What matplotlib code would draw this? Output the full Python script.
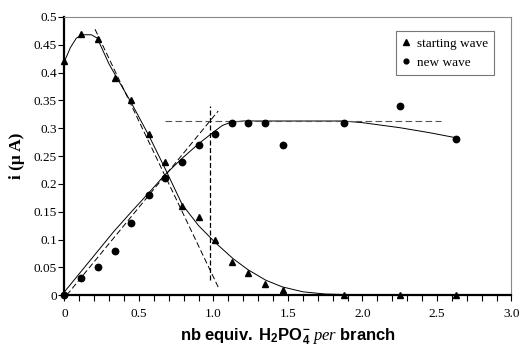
import matplotlib
matplotlib.use('Agg')
import matplotlib.pyplot as plt

plt.rcParams['font.family'] = ['Liberation Serif', 'DejaVu Serif']
plt.rcParams['mathtext.fontset'] = 'custom'
plt.rcParams['mathtext.rm'] = 'Liberation Sans:bold'
plt.rcParams['mathtext.bf'] = 'Liberation Sans:bold'
plt.rcParams['mathtext.it'] = 'Liberation Serif:italic'

# equivalents of H2PO4- added per branch
x_eq = [0.0, 0.11, 0.227, 0.339, 0.446, 0.567, 0.674, 0.786, 0.903, 1.01,
        1.126, 1.234, 1.346, 1.464, 1.876, 2.25, 2.625]

# starting wave current (uA)
i_start = [0.42, 0.47, 0.46, 0.39, 0.35, 0.29, 0.24, 0.16, 0.14, 0.10,
           0.06, 0.04, 0.02, 0.01, 0.0, 0.0, 0.0]

# new wave current (uA)
i_new = [0.0, 0.03, 0.05, 0.08, 0.13, 0.18, 0.21, 0.24, 0.27, 0.29,
         0.31, 0.31, 0.31, 0.27, 0.31, 0.34, 0.28]

# smoothed trend curves
start_curve_x = [0.0, 0.04, 0.08, 0.12, 0.18, 0.22, 0.3, 0.45, 0.57, 0.68,
                 0.79, 0.9, 1.01, 1.13, 1.23, 1.35, 1.46, 1.6, 1.75, 2.05]
start_curve_y = [0.42, 0.445, 0.462, 0.468, 0.468, 0.462, 0.415, 0.345, 0.285, 0.225,
                 0.163, 0.125, 0.095, 0.066, 0.046, 0.027, 0.015, 0.006, 0.002, 0.0]
new_curve_x = [0.0, 0.11, 0.22, 0.33, 0.45, 0.57, 0.67, 0.79, 0.9, 1.0,
               1.06, 1.12, 1.2, 1.87, 2.0, 2.25, 2.45, 2.625]
new_curve_y = [0.006, 0.042, 0.078, 0.114, 0.15, 0.185, 0.215, 0.246, 0.272, 0.293,
               0.305, 0.311, 0.313, 0.313, 0.31, 0.301, 0.292, 0.283]

# tangent construction lines
tan_start_x = [0.205, 1.04]
tan_start_y = [0.478, 0.01]
tan_new_x = [0.015, 1.032]
tan_new_y = [0.0, 0.331]
plateau_x = [0.674, 2.53]
plateau_y = [0.313, 0.313]
equiv_x = [0.977, 0.977]
equiv_y = [0.027, 0.34]

fig = plt.figure(figsize=(5.24, 3.46), dpi=100)
ax = fig.add_axes([0.123, 0.147, 0.853, 0.804])

dash = (0, (6, 3))
ax.plot(start_curve_x, start_curve_y, color='black', lw=0.7)
ax.plot(new_curve_x, new_curve_y, color='black', lw=0.7)
ax.plot(tan_start_x, tan_start_y, color='black', lw=0.7, linestyle=dash)
ax.plot(tan_new_x, tan_new_y, color='black', lw=0.7, linestyle=dash)
ax.plot(plateau_x, plateau_y, color='#555555', lw=0.8, linestyle=dash)
ax.plot(equiv_x, equiv_y, color='black', lw=0.9, linestyle=(0, (4, 2)))

ax.plot(x_eq, i_start, '^', color='black', markersize=5, label='starting wave', clip_on=False)
ax.plot(x_eq, i_new, 'o', color='black', markersize=4.6, label='new wave', clip_on=False)

ax.set_xlim(0, 3.0)
ax.set_ylim(0, 0.5)

xt = [0, 0.5, 1.0, 1.5, 2.0, 2.5, 3.0]
ax.set_xticks(xt)
ax.set_xticklabels(['0', '0.5', '1.0', '1.5', '2.0', '2.5', '3.0'])
ax.set_xticks([k / 10 for k in range(31)], minor=True)
yt = [k * 0.05 for k in range(11)]
ax.set_yticks(yt)
ax.set_yticklabels(['0', '0.05', '0.1', '0.15', '0.2', '0.25', '0.3', '0.35', '0.4', '0.45', '0.5'])
ax.tick_params(axis='both', which='major', direction='out', length=4, width=0.8,
               labelsize=9.5, color='black', pad=1.5)
ax.tick_params(axis='x', which='minor', direction='out', length=4, width=0.8)
ax.tick_params(axis='x', pad=5)

for side in ['left', 'bottom']:
    ax.spines[side].set_linewidth(1.6)
    ax.spines[side].set_color('black')
for side in ['top', 'right']:
    ax.spines[side].set_linewidth(0.8)
    ax.spines[side].set_color('#888888')

ax.set_xlabel(r'$\mathbf{nb\ equiv.\ H_2PO_4^{-}}\ \mathit{per}\ \mathbf{branch}$',
              fontsize=12, labelpad=5)
ax.set_ylabel('i (\u03bc A)', fontsize=12.5, fontweight='bold', labelpad=6)

leg = ax.legend(loc='upper left', bbox_to_anchor=(0.742, 0.948), fontsize=9.5,
                frameon=True, fancybox=False, edgecolor='#555555',
                handlelength=0.6, handletextpad=0.5, markerscale=0.75,
                borderpad=0.45, labelspacing=0.55, borderaxespad=0)
leg.get_frame().set_linewidth(0.8)

fig.savefig('out.png', dpi=100)
